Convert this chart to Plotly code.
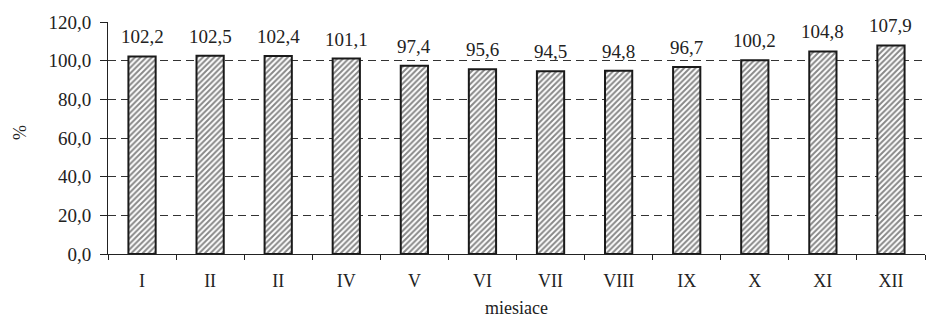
import plotly.graph_objects as go

months = ["I", "II", "II", "IV", "V", "VI", "VII", "VIII", "IX", "X", "XI", "XII"]
values = [102.2, 102.5, 102.4, 101.1, 97.4, 95.6, 94.5, 94.8, 96.7, 100.2, 104.8, 107.9]
y_ticks = [0, 20, 40, 60, 80, 100, 120]

x = list(range(len(months)))
FONT = "Liberation Serif, Times New Roman, serif"

W, H = 926, 317
L, R, T, B = 108, 1, 22, 63
plot_w = W - L - R
plot_h = H - T - B

fig = go.Figure(go.Bar(
    x=x, y=values,
    width=0.4,
    marker=dict(
        color="white",
        line=dict(color="#1a1a1a", width=2),
        pattern=dict(shape="/", size=4, solidity=0.5, fgcolor="#111111", bgcolor="white"),
    ),
    showlegend=False,
    hoverinfo="skip",
))

labels = [f"{v:.1f}".replace(".", ",") for v in values]
annotations = [
    dict(x=xi, y=v, xref="x", yref="y", text=t, showarrow=False,
         yanchor="bottom", xanchor="center", yshift=7,
         font=dict(family=FONT, size=19, color="#222222"))
    for xi, v, t in zip(x, values, labels)
]
annotations += [
    dict(text="%", x=(20 - L) / plot_w, y=(H - B - 133) / plot_h,
         xref="paper", yref="paper", showarrow=False,
         font=dict(family=FONT, size=18, color="#222222"), textangle=-90,
         xanchor="center", yanchor="middle"),
    dict(text="miesiace", x=0.5, y=(H - B - 308) / plot_h,
         xref="paper", yref="paper", showarrow=False,
         font=dict(family=FONT, size=18, color="#222222"),
         xanchor="center", yanchor="middle"),
]

fig.update_layout(
    width=W, height=H,
    margin=dict(l=L, r=R, t=T, b=B),
    paper_bgcolor="white", plot_bgcolor="white",
    separators=", ",
    font=dict(family=FONT, size=19, color="#222222"),
    xaxis=dict(
        range=[-0.5, 11.5],
        tickmode="array", tickvals=x, ticktext=months,
        ticks="", showgrid=False,
        showline=True, linecolor="#222222", linewidth=1,
        minor=dict(tickmode="linear", tick0=0.5, dtick=1, ticks="outside", ticklen=5,
                   tickcolor="#222222", tickwidth=1, showgrid=False),
        tickfont=dict(family=FONT, size=18),
        ticklabelstandoff=10,
        automargin=False,
        fixedrange=True,
    ),
    yaxis=dict(
        range=[0, 120],
        tickmode="array", tickvals=y_ticks, tickformat=".1f",
        ticks="outside", ticklen=7, tickcolor="#222222",
        showline=True, linecolor="#222222", linewidth=1,
        showgrid=True, gridcolor="#333333", gridwidth=1, griddash="8px,5px",
        zeroline=False,
        tickfont=dict(family=FONT, size=19),
        ticklabelstandoff=5,
        automargin=False,
        fixedrange=True,
    ),
    bargap=0.6,
    annotations=annotations,
)

fig.write_html("out.html", config={"displayModeBar": False},
               post_script="document.body.style.margin='0';")
